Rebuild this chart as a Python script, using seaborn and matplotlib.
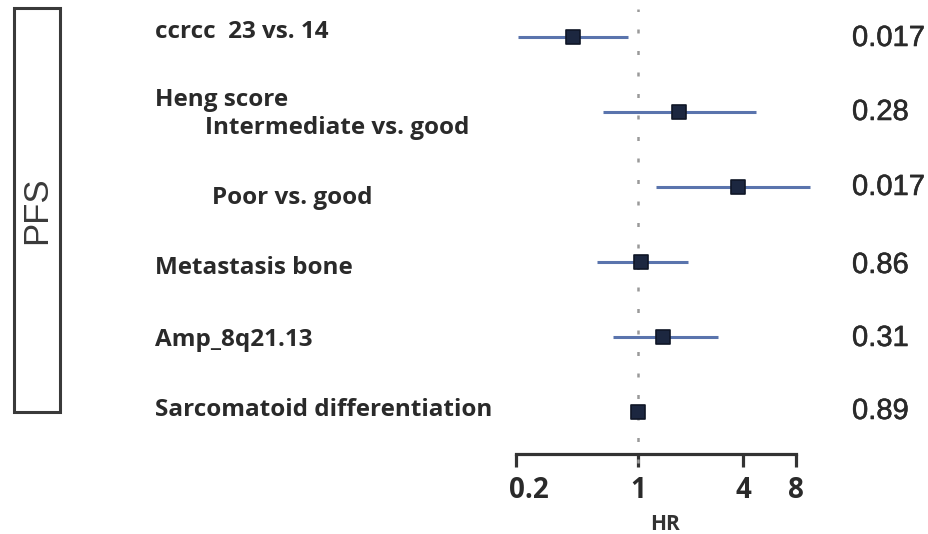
import matplotlib
matplotlib.use("Agg")
import matplotlib.pyplot as plt
import matplotlib.transforms as mtrans
import matplotlib.patheffects as pe
import seaborn as sns
import numpy as np
import pandas as pd
from matplotlib.patches import Rectangle

sns.set_style("white")

labels = ["ccrcc  23 vs. 14", "Intermediate vs. good", "Poor vs. good",
          "Metastasis bone", "Amp_8q21.13", "Sarcomatoid differentiation"]
hr = [0.425, 1.71, 3.73, 1.04, 1.39, 1.0]
lower = [0.206, 0.63, 1.27, 0.58, 0.72, 0.98]
upper = [0.877, 4.72, 9.6, 1.93, 2.87, 1.02]
pvals = ["0.017", "0.28", "0.017", "0.86", "0.31", "0.89"]
xticks = [0.2, 1, 4, 8]
xticklabels = ["0.2", "1", "4", "8"]

df = pd.DataFrame({"label": labels, "hr": hr, "lo": lower, "hi": upper,
                   "row": np.arange(len(labels))})

W, H = 929, 534
fig = plt.figure(figsize=(W / 100, H / 100), dpi=100)

ax_l, ax_r, ax_t, ax_b = 500, 830, 0, 454
ax = fig.add_axes([ax_l / W, 1 - ax_b / H, (ax_r - ax_l) / W, (ax_b - ax_t) / H])
ax.set_xscale("log")
ppd = 175.0
x0 = 638.0
ax.set_xlim(10 ** ((ax_l - x0) / ppd), 10 ** ((ax_r - x0) / ppd))
row_px0, row_sp = 37.0, 75.0
ax.set_ylim((ax_b - row_px0) / row_sp, (ax_t - row_px0) / row_sp)

# reference line
ax.axvline(1, ymin=-0.02, ymax=0.98, color="#9a9a9a", lw=1.8,
           ls=(0, (1.6, 7)), zorder=1, clip_on=False)

# CIs
ax.hlines(df["row"], df["lo"], df["hi"], color="#5a74ad", lw=2.2, zorder=2)
sns.scatterplot(data=df, x="hr", y="row", marker="s", s=95, color="#1c2740",
                edgecolor="#0f1626", linewidth=1.2, ax=ax, zorder=3, legend=False)

ax.set_ylabel("")
ax.set_xlabel("HR", fontsize=15, fontweight="bold", family="Open Sans",
              color="#333333", labelpad=6)
ax.set_yticks([])
ax.set_xticks(xticks)
ax.set_xticklabels(xticklabels, fontsize=20, fontweight="bold", family="Open Sans",
                   color="#2a2a2a")
ax.xaxis.set_minor_locator(matplotlib.ticker.NullLocator())
for s in ["top", "right", "left"]:
    ax.spines[s].set_visible(False)
ax.spines["bottom"].set_bounds(0.2, 8)
ax.spines["bottom"].set_linewidth(2.3)
ax.spines["bottom"].set_color("#333333")
ax.tick_params(axis="x", bottom=True, direction="out", length=9, width=2.3,
               color="#333333", pad=7)
ax.patch.set_alpha(0)
first = ax.get_xticklabels()[0]
first.set_ha("left")
first.set_transform(first.get_transform() +
                    mtrans.ScaledTranslation(-7 / 100, 0, fig.dpi_scale_trans))

def fx(px):
    return px / W

def fy(py):
    return 1 - py / H

lab_kw = dict(fontsize=17.5, fontweight="bold", family="Open Sans", color="#2a2a2a",
              va="center", ha="left")
fig.text(fx(155), fy(32), labels[0], **lab_kw)
fig.text(fx(155), fy(100), "Heng score", **lab_kw)
fig.text(fx(205), fy(128), labels[1], **lab_kw)
fig.text(fx(212), fy(198), labels[2], **lab_kw)
fig.text(fx(155), fy(268), labels[3], **lab_kw)
fig.text(fx(155), fy(340), labels[4], **lab_kw)
fig.text(fx(155), fy(410), labels[5], **lab_kw)

p_y = [38, 112, 187, 265, 338, 411]
for p, y in zip(pvals, p_y):
    fig.text(fx(852), fy(y), p, fontsize=21, family="Liberation Sans",
             color="#2a2a2a", va="center", ha="left",
             path_effects=[pe.withStroke(linewidth=0.4, foreground="#2a2a2a")])

# PFS box
fig.patches.append(Rectangle((fx(14), fy(412)), fx(60) - fx(14), fy(8) - fy(412),
                             transform=fig.transFigure, fill=False,
                             edgecolor="#3a3a3a", lw=2.2))
fig.text(fx(37), fy(210), "PFS", rotation=90, fontsize=25, family="Liberation Sans",
         color="#3a3a3a", va="center", ha="center")

fig.savefig("out.png", dpi=100, facecolor="white")
